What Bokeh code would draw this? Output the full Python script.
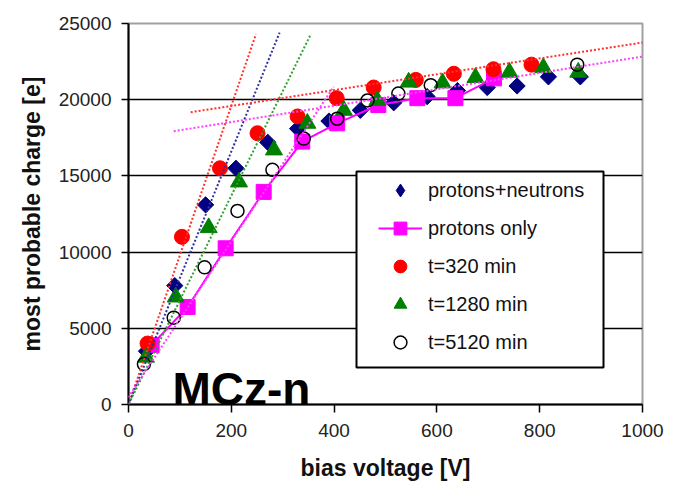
import numpy as np
from bokeh.plotting import figure
from bokeh.models import (Range1d, FixedTicker, Legend, LegendItem,
                          Label, BoxAnnotation, Arrow)
from bokeh.embed import file_html
from bokeh.resources import INLINE

# ---------------- data ----------------
x_ticks = [0, 200, 400, 600, 800, 1000]
y_ticks = [0, 5000, 10000, 15000, 20000, 25000]
grid_q = [5000, 10000, 15000, 20000]

pn_v = [35, 90, 150, 209, 271, 329, 390, 451, 516, 581, 640, 698, 756, 817, 879]
pn_q = [3500, 7800, 13100, 15500, 17200, 18100, 18600, 19300, 19800, 20200,
        20600, 20800, 20900, 21500, 21500]

po_v = [45, 115, 189, 263, 338, 406, 486, 562, 636, 711]
po_q = [3900, 6400, 10250, 13950, 17250, 18450, 19650, 20100, 20100, 21400]

t320_v = [37, 104, 178, 251, 329, 405, 477, 559, 633, 710, 784]
t320_q = [4000, 11000, 15500, 17800, 18900, 20100, 20800, 21300, 21700, 22000, 22300]

t1280_v = [34, 92, 156, 215, 283, 348, 419, 484, 545, 611, 675, 741, 807, 875]
t1280_q = [3100, 7050, 11600, 14600, 16700, 18450, 19300, 19950, 21150, 21100,
           21450, 21800, 22100, 21800]

t5120_v = [30, 88, 148, 212, 280, 341, 406, 465, 525, 588, 873]
t5120_q = [2650, 5700, 9000, 12700, 15400, 17450, 18750, 19950, 20400, 20950, 22300]

# linear trend lines: slope [e/V], intercept [e], voltage extent
steep_colors = ["#ff3030", "#3030a0", "#30a030", "#ff40ff"]
steep_slope = [98, 83, 68.5, 51]
steep_icpt = [0, 0, 0, 500]
steep_vmin = [-8, -6, -6, -5]
steep_vmax = [248, 294, 355, 399]

flat_colors = ["#ff3030", "#ff40ff"]
flat_slope = [5.2, 5.37]
flat_icpt = [18550, 17460]
flat_vmin = [121, 88]
flat_vmax = [1040, 1040]

# ---------------- layout ----------------
W, H = 687, 499
ML, MR, MT, MB = 128, 45, 23, 95
FW, FH = W - ML - MR, H - MT - MB

def pxv(px):
    return (px - ML) * (x_ticks[-1] - x_ticks[0]) / FW

def pxq(py):
    return (H - MB - py) * (y_ticks[-1] - y_ticks[0]) / FH

FONT = "Liberation Sans"

p = figure(width=W, height=H,
           x_range=Range1d(x_ticks[0], x_ticks[-1]), y_range=Range1d(y_ticks[0], y_ticks[-1]),
           output_backend="svg", toolbar_location=None,
           min_border_left=ML, min_border_right=MR, min_border_top=MT,
           min_border_bottom=MB)
p.background_fill_color = "white"
p.border_fill_color = "white"
p.outline_line_color = "#a0a0a0"
p.outline_line_width = 2

p.xgrid.visible = False
p.ygrid.ticker = FixedTicker(ticks=grid_q)
p.ygrid.grid_line_color = "black"
p.ygrid.grid_line_width = 1.6

p.xaxis.ticker = FixedTicker(ticks=x_ticks)
p.yaxis.ticker = FixedTicker(ticks=y_ticks)
p.xaxis.axis_label = "bias voltage [V]"
p.yaxis.axis_label = "most probable charge [e]"
for ax in (p.xaxis, p.yaxis):
    ax.axis_line_color = "black"
    ax.axis_line_width = 2
    ax.major_tick_in = 0
    ax.major_tick_line_color = "black"
    ax.major_tick_line_width = 1.5
    ax.minor_tick_line_color = None
    ax.major_label_text_font = FONT
    ax.major_label_text_font_size = "19px"
    ax.major_label_text_color = "#222222"
    ax.axis_label_text_font = FONT
    ax.axis_label_text_font_style = "bold"
    ax.axis_label_text_font_size = "23px"
    ax.axis_label_text_color = "#111111"
p.xaxis.major_tick_out = 8
p.xaxis.major_label_standoff = 11
p.xaxis.axis_label_standoff = 15
p.yaxis.major_tick_out = 7
p.yaxis.major_label_standoff = 10
p.yaxis.axis_label_standoff = 11

# series
# diamond glyph (hidden under the rotated squares) gives the legend its diamond
r_pn_leg = p.scatter(pn_v, pn_q, marker="diamond", size=12,
                     fill_color="#000080", line_color="#000080")
r_pn = p.scatter(pn_v, pn_q, marker="square", angle=np.pi / 4, size=11.5,
                 fill_color="#000080", line_color="#000080")
r_pol = p.line(po_v, po_q, line_color="#ff00ff", line_width=2)
r_pos = p.scatter(po_v, po_q, marker="square", size=15,
                  fill_color="#ff00ff", line_color="#ff00ff")
r_320 = p.scatter(t320_v, t320_q, marker="circle", size=15,
                  fill_color="#ff0000", line_color="#ff0000")
r_1280 = p.scatter(t1280_v, t1280_q, marker="triangle", size=17,
                   fill_color="#008000", line_color="#008000")
r_5120 = p.scatter(t5120_v, t5120_q, marker="circle", size=13,
                   fill_color="white", fill_alpha=0, line_color="black", line_width=1.5)

# trend lines (annotations so that they may run past the plot frame)
for c, s, b, v0, v1 in zip(steep_colors + flat_colors, steep_slope + flat_slope,
                           steep_icpt + flat_icpt, steep_vmin + flat_vmin,
                           steep_vmax + flat_vmax):
    p.add_layout(Arrow(end=None, x_start=v0, y_start=s * v0 + b, x_end=v1, y_end=s * v1 + b,
                       line_color=c, line_width=2, line_dash="2 2"))

# panel title
p.add_layout(Label(x=pxv(172), y=pxq(388), text="MCz-n", text_font=FONT,
                   text_font_size="46px", text_font_style="bold",
                   text_color="black", text_baseline="alphabetic"))

# legend box and legend
p.add_layout(BoxAnnotation(left=pxv(356), right=pxv(603), top=pxq(171), bottom=pxq(367),
                           fill_color="white", fill_alpha=1.0,
                           line_color="black", line_width=2, line_alpha=1.0))
legend = Legend(items=[
    LegendItem(label="protons+neutrons", renderers=[r_pn_leg]),
    LegendItem(label="protons only", renderers=[r_pol, r_pos]),
    LegendItem(label="t=320 min", renderers=[r_320]),
    LegendItem(label="t=1280 min", renderers=[r_1280]),
    LegendItem(label="t=5120 min", renderers=[r_5120]),
], location=(378 - ML, H - MB - 358))
legend.border_line_alpha = 0
legend.background_fill_alpha = 0
legend.padding = 0
legend.margin = 0
legend.spacing = 6
legend.glyph_height = 32
legend.glyph_width = 44
legend.label_height = 32
legend.label_standoff = 6
legend.label_text_font = FONT
legend.label_text_font_size = "20px"
legend.label_text_color = "#111111"
p.add_layout(legend, "center")

open("out.html", "w").write(file_html(p, INLINE))
